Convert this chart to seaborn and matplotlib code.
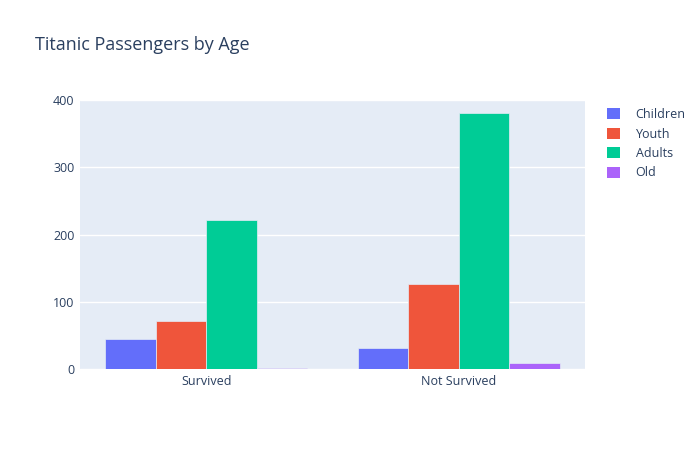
import matplotlib
matplotlib.use("Agg")
import matplotlib.pyplot as plt
import seaborn as sns
import pandas as pd
from matplotlib.patches import Patch

outcomes = ["Survived", "Not Survived"]
age_groups = ["Children", "Youth", "Adults", "Old"]
survived_counts = [44, 72, 222, 1]
not_survived_counts = [31, 126, 380, 9]
colors = ["#636EFA", "#EF553B", "#00CC96", "#AB63FA"]

rows = []
for g, v in zip(age_groups, survived_counts):
    rows.append({"Outcome": outcomes[0], "Age": g, "Count": v})
for g, v in zip(age_groups, not_survived_counts):
    rows.append({"Outcome": outcomes[1], "Age": g, "Count": v})
df = pd.DataFrame(rows)

sns.set_theme(style="darkgrid")
plt.rcParams['font.family'] = ['Open Sans', 'DejaVu Sans']

fig = plt.figure(figsize=(7, 4.5), dpi=100)
ax = fig.add_axes([80/700, 81/450, 505/700, 269/450])
ax.set_facecolor("#E5ECF6")

sns.barplot(data=df, x="Outcome", y="Count", hue="Age", hue_order=age_groups,
            order=outcomes, palette=colors, saturation=1, width=0.8, gap=0,
            edgecolor="#E5ECF6", linewidth=0.5, ax=ax, legend=False)

ax.set_xlim(-0.5, 1.5)
ax.set_ylim(0, 400)
ax.set_yticks([0, 100, 200, 300, 400])
ax.grid(axis="y", color="white", linewidth=1)
ax.grid(axis="x", visible=False)
ax.set_axisbelow(True)
for s in ax.spines.values():
    s.set_visible(False)
ax.set_xlabel("")
ax.set_ylabel("")
ax.tick_params(axis="both", length=0, labelsize=9, colors="#2a3f5f", pad=4)

fig.text(35/700, 1 - 45/450, "Titanic Passengers by Age", fontsize=13, color="#2a3f5f",
         va="center", ha="left")

handles = [Patch(facecolor=c, edgecolor="none") for c in colors]
leg = fig.legend(handles, age_groups, loc="upper left", bbox_to_anchor=(602/700, 1 - 103/450),
                 frameon=False, fontsize=9, handlelength=1.0, handleheight=1.0,
                 handletextpad=1.3, labelspacing=0.52, borderaxespad=0)
for t in leg.get_texts():
    t.set_color("#2a3f5f")

fig.savefig("out.png", dpi=100, facecolor="white")
